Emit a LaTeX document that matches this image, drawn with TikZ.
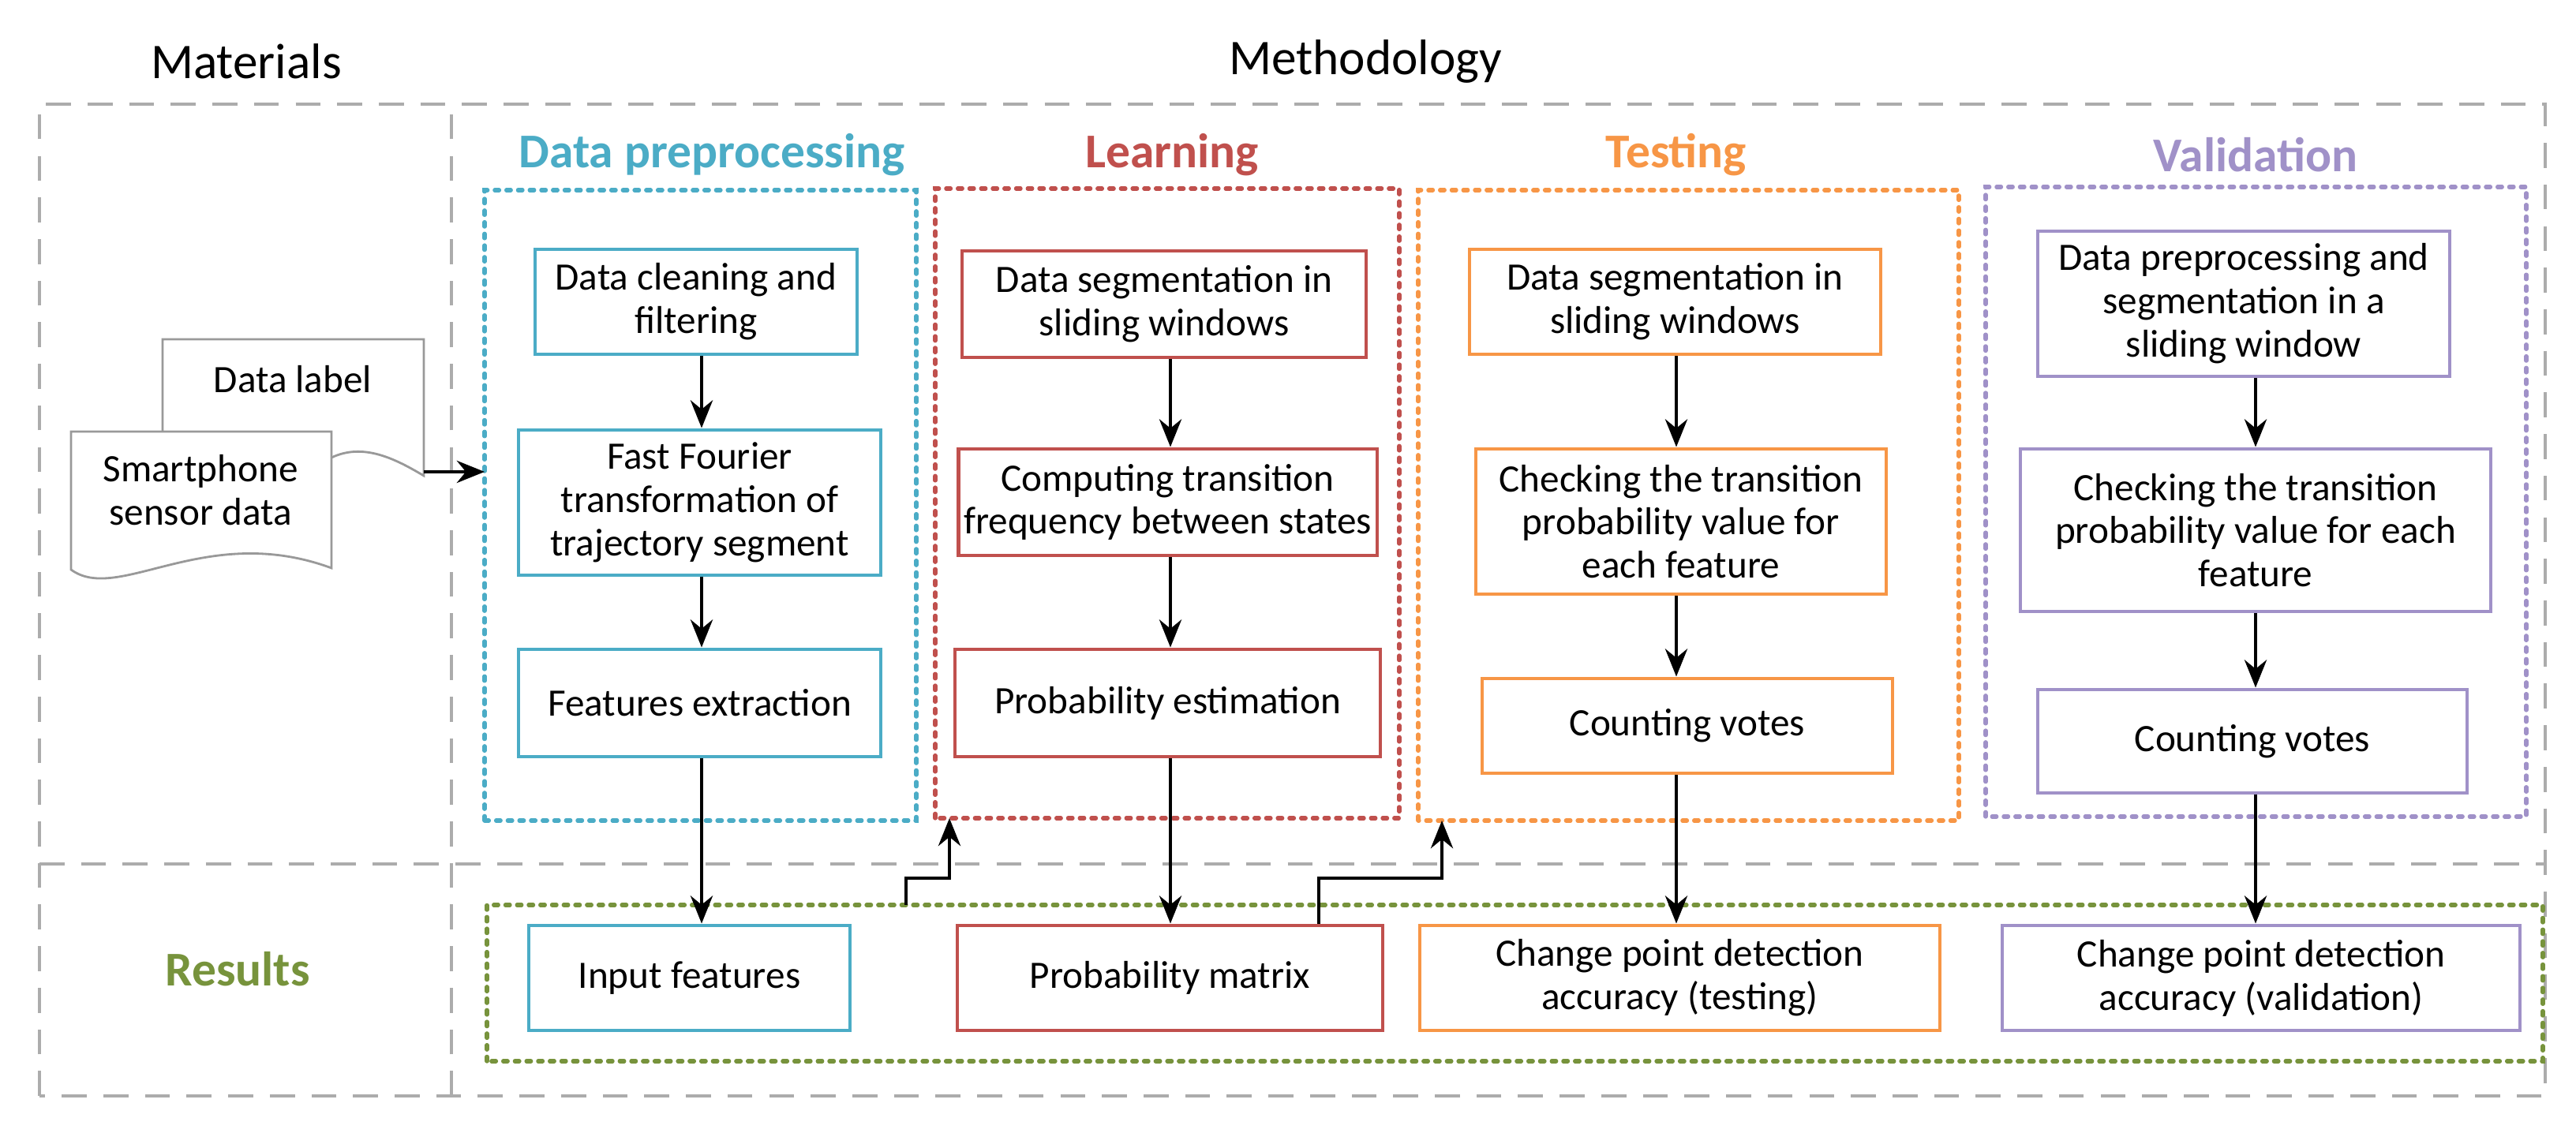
\documentclass[tikz,border=0pt]{standalone}
\usepackage{fontspec}
\setmainfont{Carlito}
\usetikzlibrary{arrows.meta}
\definecolor{dpblue}{RGB}{75,172,198}
\definecolor{lnred}{RGB}{192,80,77}
\definecolor{tsorange}{RGB}{247,150,70}
\definecolor{vlpurple}{RGB}{160,145,200}
\definecolor{rsgreen}{RGB}{119,147,60}
\begin{document}
\begin{tikzpicture}
% Styles
\tikzset{step box/.style={draw=#1,line width=1.4pt,align=center,inner sep=2pt,font=\fontsize{14}{15.6}\selectfont},
  group box/.style={draw=#1,line width=1.5pt,dash pattern=on 1.6pt off 2.6pt,line cap=round},
  frame line/.style={draw=gray!65,line width=1.3pt,dash pattern=on 9pt off 6pt},
  title/.style={font=\fontsize{17.5}{20}\selectfont\bfseries,text=#1},
  arr/.style={line width=1.3pt,-{Stealth[length=10pt,width=8pt]}}}
\useasboundingbox (0,0) rectangle (32.64,14.36);

% Frame
\draw[frame line] (0.50,0.47) rectangle (32.25,13.04);
\draw[frame line] (5.72,0.47) -- (5.72,13.04);
\draw[frame line] (0.50,3.41) -- (32.25,3.41);
\node[font=\fontsize{18}{21}\selectfont] (mat) at (3.12,13.58) {Materials};
\node[font=\fontsize{18}{21}\selectfont] (meth) at (17.3,13.58) {Methodology};
\node[title=rsgreen] (res) at (3.01,2.08) {Results};

% Groups
\draw[group box=dpblue] (6.14,3.96) rectangle (11.61,11.95);
\draw[group box=lnred] (11.85,3.99) rectangle (17.73,11.97);
\draw[group box=tsorange] (17.97,3.96) rectangle (24.82,11.95);
\draw[group box=vlpurple] (25.16,4.01) rectangle (32.01,11.99);
\draw[group box=rsgreen] (6.17,0.91) rectangle (32.22,2.89);
\coordinate (grpB) at (6.14,8.38);
\coordinate (grpR) at (12.03,3.99);
\coordinate (grpO) at (18.27,3.96);
\node[title=dpblue] (tB) at (9.02,12.40) {Data preprocessing};
\node[title=lnred] (tR) at (14.85,12.40) {Learning};
\node[title=tsorange] (tO) at (21.24,12.40) {Testing};
\node[title=vlpurple] (tV) at (28.58,12.40) {Validation};

% Materials documents
\draw[gray!80,line width=0.8pt,fill=white] (2.06,8.89) -- (2.06,10.06) -- (5.37,10.06) -- (5.37,8.33)
  .. controls (5.0,8.55) and (4.6,8.75) .. (4.20,8.56);
\draw[gray!80,line width=0.8pt,fill=white] (0.90,7.14) -- (0.90,8.89) -- (4.20,8.89) -- (4.20,7.16)
  .. controls (2.6,7.75) and (1.5,6.70) .. cycle;
\node[font=\fontsize{14}{15.6}\selectfont] (lbl) at (3.71,9.55) {Data label};
\node[font=\fontsize{14}{15.6}\selectfont,align=center] (sens) at (2.54,8.15) {Smartphone\\sensor data};
\coordinate (docR) at (5.37,8.38);
\draw[arr] (docR) -- (grpB);

% Data preprocessing
\node[step box=dpblue,minimum width=4.08cm,minimum height=1.33cm] (dc) at (8.82,10.535) {Data cleaning and\\filtering};
\node[step box=dpblue,minimum width=4.59cm,minimum height=1.84cm] (fft) at (8.865,7.99) {Fast Fourier\\transformation of\\trajectory segment};
\node[step box=dpblue,minimum width=4.59cm,minimum height=1.36cm] (fe) at (8.865,5.45) {Features extraction};
\node[step box=dpblue,minimum width=4.07cm,minimum height=1.33cm] (inf) at (8.735,1.965) {Input features};

% Learning
\node[step box=lnred,minimum width=5.12cm,minimum height=1.35cm] (ds) at (14.75,10.505) {Data segmentation in\\sliding windows};
\node[step box=lnred,minimum width=5.15cm,minimum height=1.35cm] (ct) at (14.795,7.995) {Computing transition\\frequency between states};
\node[step box=lnred,minimum width=5.39cm,minimum height=1.36cm] (pe) at (14.795,5.45) {Probability estimation};
\node[step box=lnred,minimum width=5.39cm,minimum height=1.33cm] (pm) at (14.825,1.965) {Probability matrix};

% Testing
\node[step box=tsorange,minimum width=5.21cm,minimum height=1.33cm] (ts) at (21.225,10.535) {Data segmentation in\\sliding windows};
\node[step box=tsorange,minimum width=5.20cm,minimum height=1.84cm] (tc) at (21.30,7.75) {Checking the transition\\probability value for\\each feature};
\node[step box=tsorange,minimum width=5.20cm,minimum height=1.20cm] (tv) at (21.38,5.16) {Counting votes};
\node[step box=tsorange,minimum width=6.59cm,minimum height=1.33cm] (ta) at (21.285,1.965) {Change point detection\\accuracy (testing)};

% Validation
\node[step box=vlpurple,minimum width=5.22cm,minimum height=1.84cm] (vs) at (28.43,10.51) {Data preprocessing and\\segmentation in a\\sliding window};
\node[step box=vlpurple,minimum width=5.96cm,minimum height=2.06cm] (vc) at (28.58,7.64) {Checking the transition\\probability value for each\\feature};
\node[step box=vlpurple,minimum width=5.44cm,minimum height=1.31cm] (vv) at (28.54,4.965) {Counting votes};
\node[step box=vlpurple,minimum width=6.56cm,minimum height=1.33cm] (va) at (28.65,1.965) {Change point detection\\accuracy (validation)};

% Arrows
\draw[arr] (8.89,0 |- dc.south) -- (8.89,0 |- fft.north);
\draw[arr] (8.89,0 |- fft.south) -- (8.89,0 |- fe.north);
\draw[arr] (8.89,0 |- fe.south) -- (8.89,0 |- inf.north);
\draw[arr] (14.83,0 |- ds.south) -- (14.83,0 |- ct.north);
\draw[arr] (14.83,0 |- ct.south) -- (14.83,0 |- pe.north);
\draw[arr] (14.83,0 |- pe.south) -- (14.83,0 |- pm.north);
\draw[arr] (21.24,0 |- ts.south) -- (21.24,0 |- tc.north);
\draw[arr] (21.24,0 |- tc.south) -- (21.24,0 |- tv.north);
\draw[arr] (21.24,0 |- tv.south) -- (21.24,0 |- ta.north);
\draw[arr] (28.58,0 |- vs.south) -- (28.58,0 |- vc.north);
\draw[arr] (28.58,0 |- vc.south) -- (28.58,0 |- vv.north);
\draw[arr] (28.58,0 |- vv.south) -- (28.58,0 |- va.north);
% elbows
\coordinate (e1) at (11.48,2.89);
\draw[arr] (e1) |- (12.03,3.23) -- (grpR);
\draw[arr] (16.71,0 |- pm.north) |- (18.27,3.23) -- (grpO);
\end{tikzpicture}
\end{document}
